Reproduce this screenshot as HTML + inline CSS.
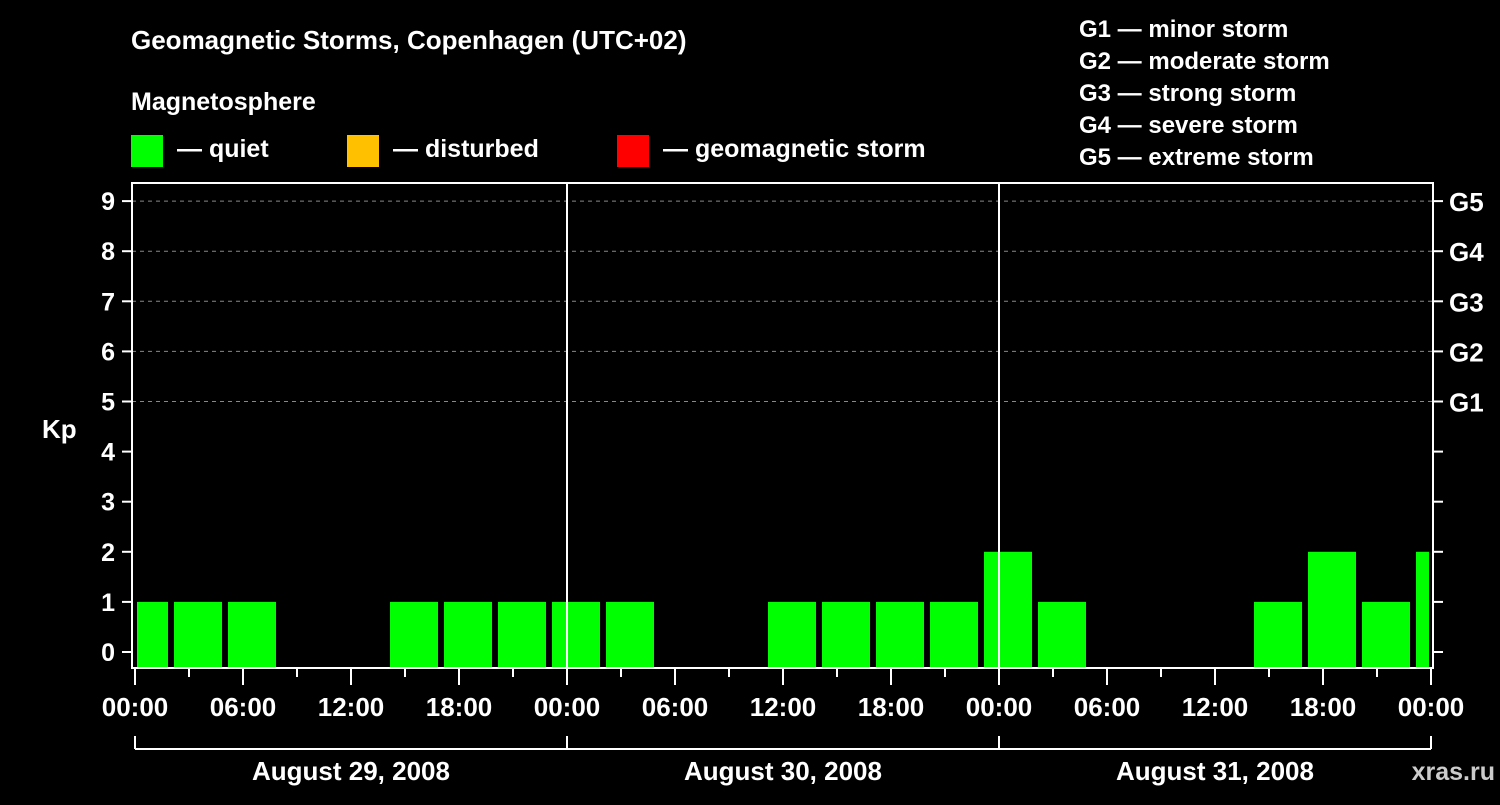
<!DOCTYPE html>
<html><head><meta charset="utf-8"><style>
body{margin:0;background:#000;}
svg text{font-family:"Liberation Sans",Arial,sans-serif;font-weight:bold;fill:#fff;}
</style></head><body>
<svg id="c" width="1500" height="800" viewBox="0 0 1500 800">
<rect width="1500" height="800" fill="#000"/>
<text x="131" y="49" font-size="26">Geomagnetic Storms, Copenhagen (UTC+02)</text>
<text x="131" y="110" font-size="25">Magnetosphere</text>
<g><rect x="131" y="135" width="32" height="32" fill="#00ff00"/><text x="177" y="157" font-size="25">— quiet</text></g>
<g><rect x="347" y="135" width="32" height="32" fill="#ffc000"/><text x="393" y="157" font-size="25">— disturbed</text></g>
<g><rect x="617" y="135" width="32" height="32" fill="#ff0000"/><text x="663" y="157" font-size="25">— geomagnetic storm</text></g>
<g font-size="24">
<text x="1079" y="37">G1 — minor storm</text>
<text x="1079" y="69">G2 — moderate storm</text>
<text x="1079" y="101">G3 — strong storm</text>
<text x="1079" y="133">G4 — severe storm</text>
<text x="1079" y="165">G5 — extreme storm</text>
</g>
<text x="42" y="438" font-size="26">Kp</text>
<text x="1495" y="780" font-size="25" text-anchor="end" fill="#ccc" style="fill:#ccc">xras.ru</text>
<g id="grid"></g><g id="bars"></g><g id="axes"></g>
</svg>
<script>
const kpValues=[1,1,1,0,0,1,1,1,1,1,0,0,1,1,1,1,2,1,0,0,0,1,2,1,2];
const startHour=-1;
const xTickLabels=["00:00","06:00","12:00","18:00","00:00","06:00","12:00","18:00","00:00","06:00","12:00","18:00","00:00"];
const dayLabels=["August 29, 2008","August 30, 2008","August 31, 2008"];
const gLabels=["G1","G2","G3","G4","G5"];
const NS="http://www.w3.org/2000/svg";
const X0=135,PXH=18,Y0=652,PXK=50.1,TOP=183,BOT=668,L=132,R=1433,H=72;
const x=h=>X0+h*PXH, y=k=>Y0-k*PXK;
function mk(p,t,a){const e=document.createElementNS(NS,t);for(const k in a)e.setAttribute(k,a[k]);p.appendChild(e);return e;}
const grid=document.getElementById('grid'),bars=document.getElementById('bars'),axes=document.getElementById('axes');
for(let k=5;k<=9;k++){const l=mk(grid,'line',{x1:L,x2:R,y1:y(k),y2:y(k),stroke:'#888','stroke-dasharray':'4 4'});

}
kpValues.forEach((v,i)=>{if(v<=0)return;let h0=Math.max(0,startHour+3*i),h1=Math.min(H,startHour+3*i+3);
const x0=x(h0)+(h0===startHour+3*i?3:2),x1=x(h1)-(h1===startHour+3*i+3?3:2);
const c=v>=5?'#ff0000':v>=4?'#ffc000':'#00ff00';
const r=mk(bars,'rect',{x:x0,y:y(v),width:x1-x0,height:BOT-y(v),fill:c});

});
mk(axes,'rect',{x:L,y:TOP,width:R-L,height:BOT-TOP,fill:'none',stroke:'#fff','stroke-width':2});
for(let d=1;d<3;d++)mk(axes,'line',{x1:x(24*d),x2:x(24*d),y1:TOP,y2:BOT,stroke:'#fff','stroke-width':2});
for(let k=0;k<=9;k++){mk(axes,'line',{x1:122,x2:L,y1:y(k),y2:y(k),stroke:'#fff','stroke-width':2});
mk(axes,'line',{x1:R,x2:1443,y1:y(k),y2:y(k),stroke:'#fff','stroke-width':2});
const t=mk(axes,'text',{x:115,y:y(k)+9,'font-size':25,'text-anchor':'end'});t.textContent=k;

}
gLabels.forEach((g,i)=>{const t=mk(axes,'text',{x:1449,y:y(5+i)+10,'font-size':26});t.textContent=g;

});
for(let h=0;h<=H;h+=3){const major=h%6===0;mk(axes,'line',{x1:x(h),x2:x(h),y1:BOT,y2:major?685:677,stroke:'#fff','stroke-width':2});}
xTickLabels.forEach((s,i)=>{const t=mk(axes,'text',{x:x(6*i),y:716,'font-size':26,'text-anchor':'middle'});t.textContent=s;

});
mk(axes,'line',{x1:x(0),x2:x(H),y1:749,y2:749,stroke:'#fff','stroke-width':2});
for(let d=0;d<=3;d++)mk(axes,'line',{x1:x(24*d),x2:x(24*d),y1:736,y2:749,stroke:'#fff','stroke-width':2});
dayLabels.forEach((s,i)=>{const t=mk(axes,'text',{x:x(24*i+12),y:780,'font-size':26,'text-anchor':'middle'});t.textContent=s;

});
</script>
</body></html>
